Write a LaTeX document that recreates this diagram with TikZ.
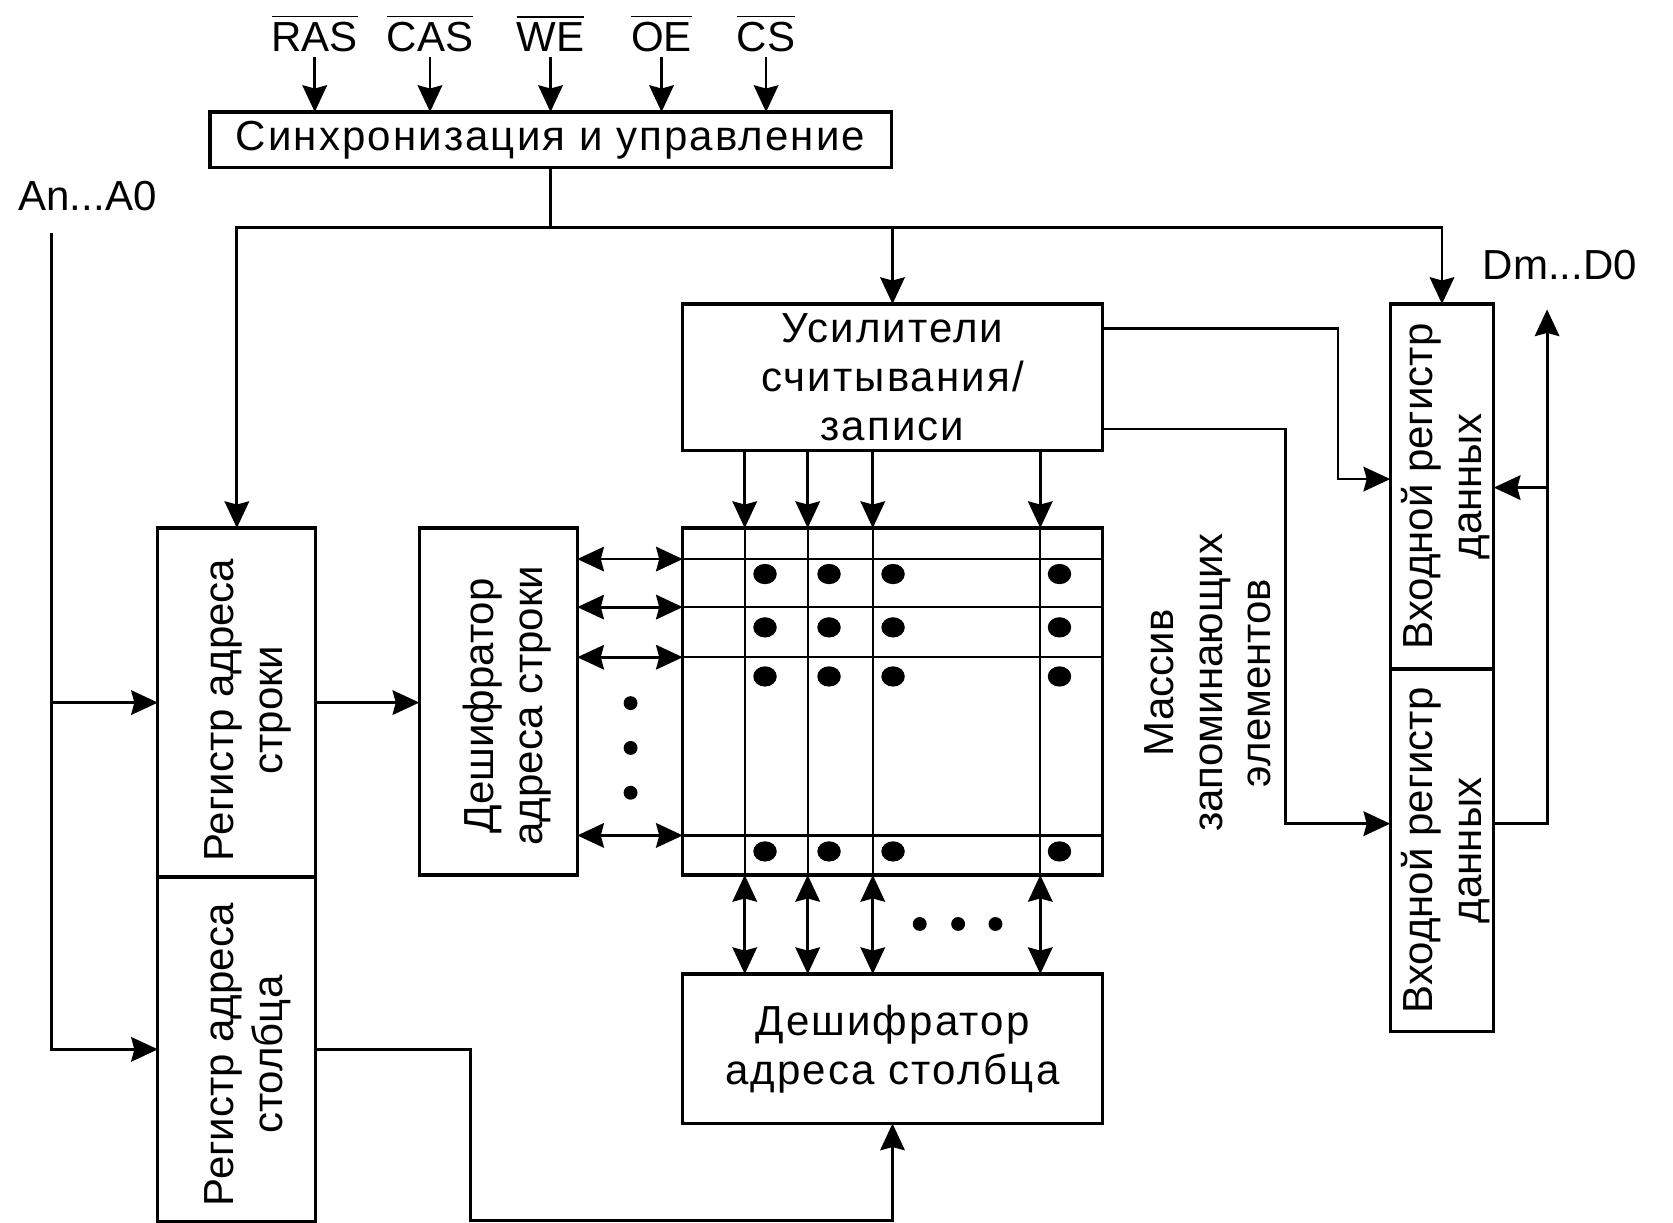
\documentclass[tikz,border=0pt]{standalone}
\usepackage{fontspec}
\setmainfont{Liberation Sans}
\usetikzlibrary{arrows.meta,calc}
\begin{document}
\begin{tikzpicture}[x=0.01cm,y=-0.01cm,
  font=\fontsize{11.2}{13}\selectfont,
  box/.style={draw, line width=0.85pt, inner sep=0pt, outer sep=0pt, align=center},
  wire/.style={line width=0.75pt},
  grid/.style={line width=0.6pt},
  tip/.tip={Stealth[length=0.25cm,width=0.23cm,inset=0.03cm]},
  arr/.style={wire,-tip},
  darr/.style={wire,tip-tip},
  txt/.style={inner sep=0pt, align=center},
  wide/.style={font=\fontsize{11.2}{13}\selectfont\addfontfeature{LetterSpace=5}},
  vtxt/.style={txt, rotate=90},
  sig/.style={inner sep=0pt, outer ysep=1.5pt},
]
\useasboundingbox (0,0) rectangle (1568,1146);

% top signals
\node[sig] (ras) at (295,31) {$\overline{\mbox{RAS}}$};
\node[sig] (cas) at (403,31) {$\overline{\mbox{CAS}}$};
\node[sig] (we)  at (516,31) {$\overline{\mbox{WE}}$};
\node[sig] (oe)  at (620,31) {$\overline{\mbox{OE}}$};
\node[sig] (cs)  at (718,31) {$\overline{\mbox{CS}}$};

% boxes
\node[box, wide, minimum width=6.38cm, minimum height=0.52cm] (sync) at (516,131) {Синхронизация и управление};
\node[box, wide, minimum width=3.93cm, minimum height=1.37cm] (amp) at (836.5,353.5) {Усилители\\считывания/\\записи};
\node[box, minimum width=3.93cm, minimum height=3.25cm] (arr) at (836.5,657.5) {};
\node[box, wide, minimum width=3.93cm, minimum height=1.40cm] (cdec) at (836.5,983) {Дешифратор\\адреса столбца};
\node[box, minimum width=1.48cm, minimum height=3.25cm] (rdec) at (467,657.5) {};
\node[box, minimum width=1.48cm, minimum height=3.27cm] (rreg) at (222,658.5) {};
\node[box, minimum width=1.48cm, minimum height=3.23cm] (creg) at (222,983.5) {};
\node[box, minimum width=0.97cm, minimum height=3.42cm] (dreg1) at (1351.5,456) {};
\node[box, minimum width=0.97cm, minimum height=3.40cm] (dreg2) at (1351.5,797) {};

% rotated texts
\node[vtxt] (rdect) at ($(rdec)+(8,4)$) {Дешифратор\\адреса строки};
\node[vtxt] (rregt) at ($(rreg)+(10,7)$) {Регистр адреса\\строки};
\node[vtxt] (cregt) at ($(creg)+(10,5)$) {Регистр адреса\\столбца};
\node[vtxt] (dreg1t) at ($(dreg1)+(3,0)$) {Входной регистр\\данных};
\node[vtxt] (dreg2t) at ($(dreg2)+(3,0)$) {Входной регистр\\данных};
\node[vtxt] (mas) at (1132,640) {Массив\\запоминающих\\элементов};

% external labels
\node[txt] (addr) at (82,184) {An...A0};
\node[txt] (data) at (1462,248) {Dm...D0};

% coordinates
\coordinate (bus) at (517,213);
\coordinate (a0) at (48,218);
\foreach \i/\x in {1/698,2/757,3/818,4/975} \coordinate (c\i) at (\x,0);
\foreach \i/\y in {1/524,2/569,3/616,4/783} \coordinate (r\i) at (0,\y);
\coordinate (k1) at (1254,308);
\coordinate (k1b) at (1254,449);
\coordinate (k2) at (1205,402);
\coordinate (k2b) at (1205,772);
\coordinate (k3) at (1450,772);
\coordinate (k3top) at (1450,290);
\coordinate (k4) at (1450,457);
\coordinate (cb) at (441,1144);

% signal arrows
\foreach \s in {ras,cas,we,oe,cs} \draw[arr] (\s) -- (\s |- sync.north);

% control bus
\draw[wire] (sync.south) -- (sync.south |- bus);
\draw[arr] (sync.south |- bus) -| (rreg.north);
\draw[arr] (sync.south |- bus) -| (dreg1.north);
\draw[arr] (amp.north |- bus) -- (amp.north);

% address inputs
\draw[arr] (a0) |- (creg.west);
\draw[arr] (a0 |- rreg.west) -- (rreg.west);
\draw[arr] (rreg.east) -- (rreg.east -| rdec.west);
\draw[arr] (creg.east) -| (cb) -| (cdec.south);

% array grid
\foreach \i in {1,2,3,4} {
  \draw[grid] (arr.north -| c\i) -- (arr.south -| c\i);
  \draw[grid] (arr.west |- r\i) -- (arr.east |- r\i);
  \draw[arr] (amp.south -| c\i) -- (arr.north -| c\i);
  \draw[darr] (arr.south -| c\i) -- (cdec.north -| c\i);
  \draw[darr] (rdec.east |- r\i) -- (arr.west |- r\i);
}
\foreach \x in {717,777,837,993}
  \foreach \y in {538,588,634,798}
    \fill (\x,\y) circle [x radius=0.11cm, y radius=0.095cm];

% ellipsis dots
\foreach \y in {659,701,743} \fill (591,\y) circle [radius=0.065cm];
\foreach \x in {862,898,933} \fill (\x,866) circle [radius=0.065cm];

% data side
\draw[arr] (amp.east |- k1) -- (k1) -- (k1b) -- (dreg1.west |- k1b);
\draw[arr] (amp.east |- k2) -- (k2) -- (k2b) -- (dreg2.west |- k2b);
\draw[arr] (dreg2.east |- k3) -- (k3) -- (k3top);
\draw[arr] (k4) -- (dreg1.east |- k4);
\end{tikzpicture}
\end{document}
